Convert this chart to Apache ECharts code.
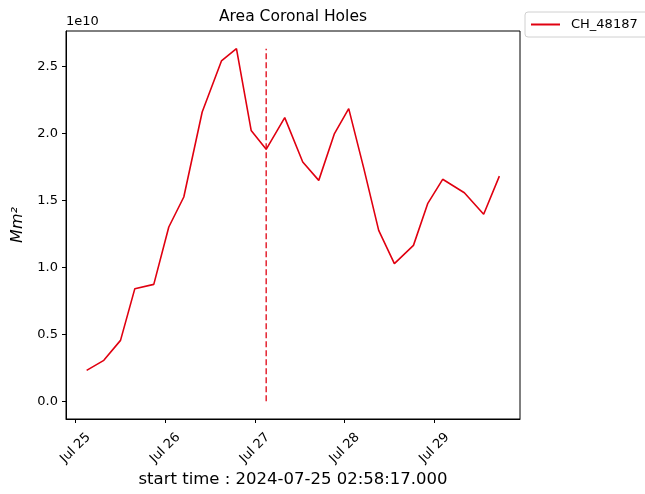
<!DOCTYPE html>
<html>
<head>
<meta charset="utf-8">
<script src="https://cdn.jsdelivr.net/npm/echarts@6/dist/echarts.min.js"></script>
<style>
  html, body { margin: 0; padding: 0; background: #fff; }
  #chart { width: 645px; height: 494px; }
</style>
</head>
<body>
<div id="chart"></div>
<script>
// data (area in units of 1e10 Mm^2, times in UTC)
var seriesName = 'CH_48187';
var times = [
    '2024-07-25T02:58:17Z', '2024-07-25T07:34Z', '2024-07-25T12:02Z', '2024-07-25T15:52Z',
    '2024-07-25T20:56Z', '2024-07-26T00:57Z', '2024-07-26T04:58Z', '2024-07-26T09:53Z',
    '2024-07-26T15:02Z', '2024-07-26T19:03Z', '2024-07-26T22:59Z', '2024-07-27T03:00Z',
    '2024-07-27T07:58Z', '2024-07-27T12:47Z', '2024-07-27T17:04Z', '2024-07-27T21:16Z',
    '2024-07-28T01:05Z', '2024-07-28T05:09Z', '2024-07-28T09:06Z', '2024-07-28T13:18Z',
    '2024-07-28T18:24Z', '2024-07-28T22:12Z', '2024-07-29T02:13Z', '2024-07-29T08:01Z',
    '2024-07-29T13:11Z', '2024-07-29T17:23Z'
];
var areaE10 = [
    0.231, 0.306, 0.455, 0.841, 0.873, 1.301, 1.525, 2.159,
    2.540, 2.632, 2.022, 1.881, 2.117, 1.786, 1.649, 1.998,
    2.184, 1.735, 1.276, 1.028, 1.164, 1.475, 1.657, 1.557,
    1.396, 1.681
];
var dayTicks = ['2024-07-25', '2024-07-26', '2024-07-27', '2024-07-28', '2024-07-29'];
var yTicks = [0, 0.5, 1.0, 1.5, 2.0, 2.5];
var markerTime = '2024-07-27T03:00Z';
var titleText = 'Area Coronal Holes';
var startText = 'start time : 2024-07-25 02:58:17.000';

var MONTHS = ['Jan','Feb','Mar','Apr','May','Jun','Jul','Aug','Sep','Oct','Nov','Dec'];
var FONT = 'DejaVu Sans';
var RED = '#e00010';

var tMs = times.map(function (t) { return Date.parse(t); });
var linePts = tMs.map(function (t, i) { return [t, areaE10[i]]; });
var markT = Date.parse(markerTime);
var peak = Math.max.apply(null, areaE10);
var markPts = [[markT, 0], [markT, peak]];
var tickMs = dayTicks.map(function (d) { return Date.parse(d + 'T00:00:00Z'); });

// matplotlib-like 5% margins
var t0 = tMs[0], t1 = tMs[tMs.length - 1], tr = t1 - t0;
var yLo = 0, yHi = peak, yr = yHi - yLo;

var myChart = echarts.init(document.getElementById('chart'), null, { renderer: 'canvas' });

myChart.setOption({
    animation: false,
    backgroundColor: '#fff',
    grid: {
        left: 66, top: 31, width: 454, height: 388,
        show: true, borderColor: '#000', borderWidth: 1,
        outerBoundsMode: 'none'
    },
    legend: {
        data: [seriesName],
        icon: 'rect',
        left: 525, top: 12,
        padding: [5, 24, 5, 6],
        itemWidth: 29, itemHeight: 2,
        borderColor: '#d0d0d0', borderWidth: 1, borderRadius: 3,
        backgroundColor: '#fff',
        textStyle: { fontFamily: FONT, fontSize: 13, color: '#000', padding: [0, 0, 0, 6], lineHeight: 15 }
    },
    xAxis: {
        type: 'value',
        min: t0 - 0.05 * tr,
        max: t1 + 0.05 * tr,
        splitLine: { show: false },
        axisLine: { onZero: false, lineStyle: { color: '#000', width: 1 } },
        axisTick: { show: true, length: 4, lineStyle: { color: '#000' }, customValues: tickMs },
        axisLabel: {
            customValues: tickMs,
            rotate: 45,
            align: 'center',
            verticalAlign: 'middle',
            margin: 29,
            fontFamily: FONT, fontSize: 13, color: '#000',
            formatter: function (v) {
                var d = new Date(v);
                return MONTHS[d.getUTCMonth()] + ' ' + d.getUTCDate();
            }
        }
    },
    yAxis: {
        type: 'value',
        min: yLo - 0.05 * yr,
        max: yHi + 0.05 * yr,
        splitLine: { show: false },
        axisLine: { show: true, onZero: false, lineStyle: { color: '#000', width: 1 } },
        axisTick: { show: true, length: 4, lineStyle: { color: '#000' }, customValues: yTicks },
        axisLabel: {
            customValues: yTicks,
            margin: 8,
            fontFamily: FONT, fontSize: 13, color: '#000',
            formatter: function (v) { return v.toFixed(1); }
        }
    },
    series: [
        {
            name: seriesName,
            type: 'line',
            data: linePts,
            symbol: 'none',
            lineStyle: { color: RED, width: 1.6 },
            itemStyle: { color: RED }
        },
        {
            name: 'marker',
            type: 'line',
            data: markPts,
            symbol: 'none',
            silent: true,
            lineStyle: { color: RED, width: 1.3, type: [6, 3] }
        }
    ],
    graphic: [
        {
            type: 'text', x: 293, y: 17,
            style: { text: titleText, font: '15.5px "DejaVu Sans"', fill: '#000', align: 'center', verticalAlign: 'middle' }
        },
        {
            type: 'text', x: 66, y: 22,
            style: { text: '1e10', font: '13px "DejaVu Sans"', fill: '#000', align: 'left', verticalAlign: 'middle' }
        },
        {
            type: 'text', x: 293, y: 480,
            style: { text: startText, font: '16.5px "DejaVu Sans"', fill: '#000', align: 'center', verticalAlign: 'middle' }
        },
        {
            type: 'text', x: 18, y: 225, rotation: Math.PI / 2,
            style: { text: 'Mm\u00b2', font: 'italic 16px "DejaVu Sans"', fill: '#000', align: 'center', verticalAlign: 'middle' }
        }
    ]
});
</script>
</body>
</html>
